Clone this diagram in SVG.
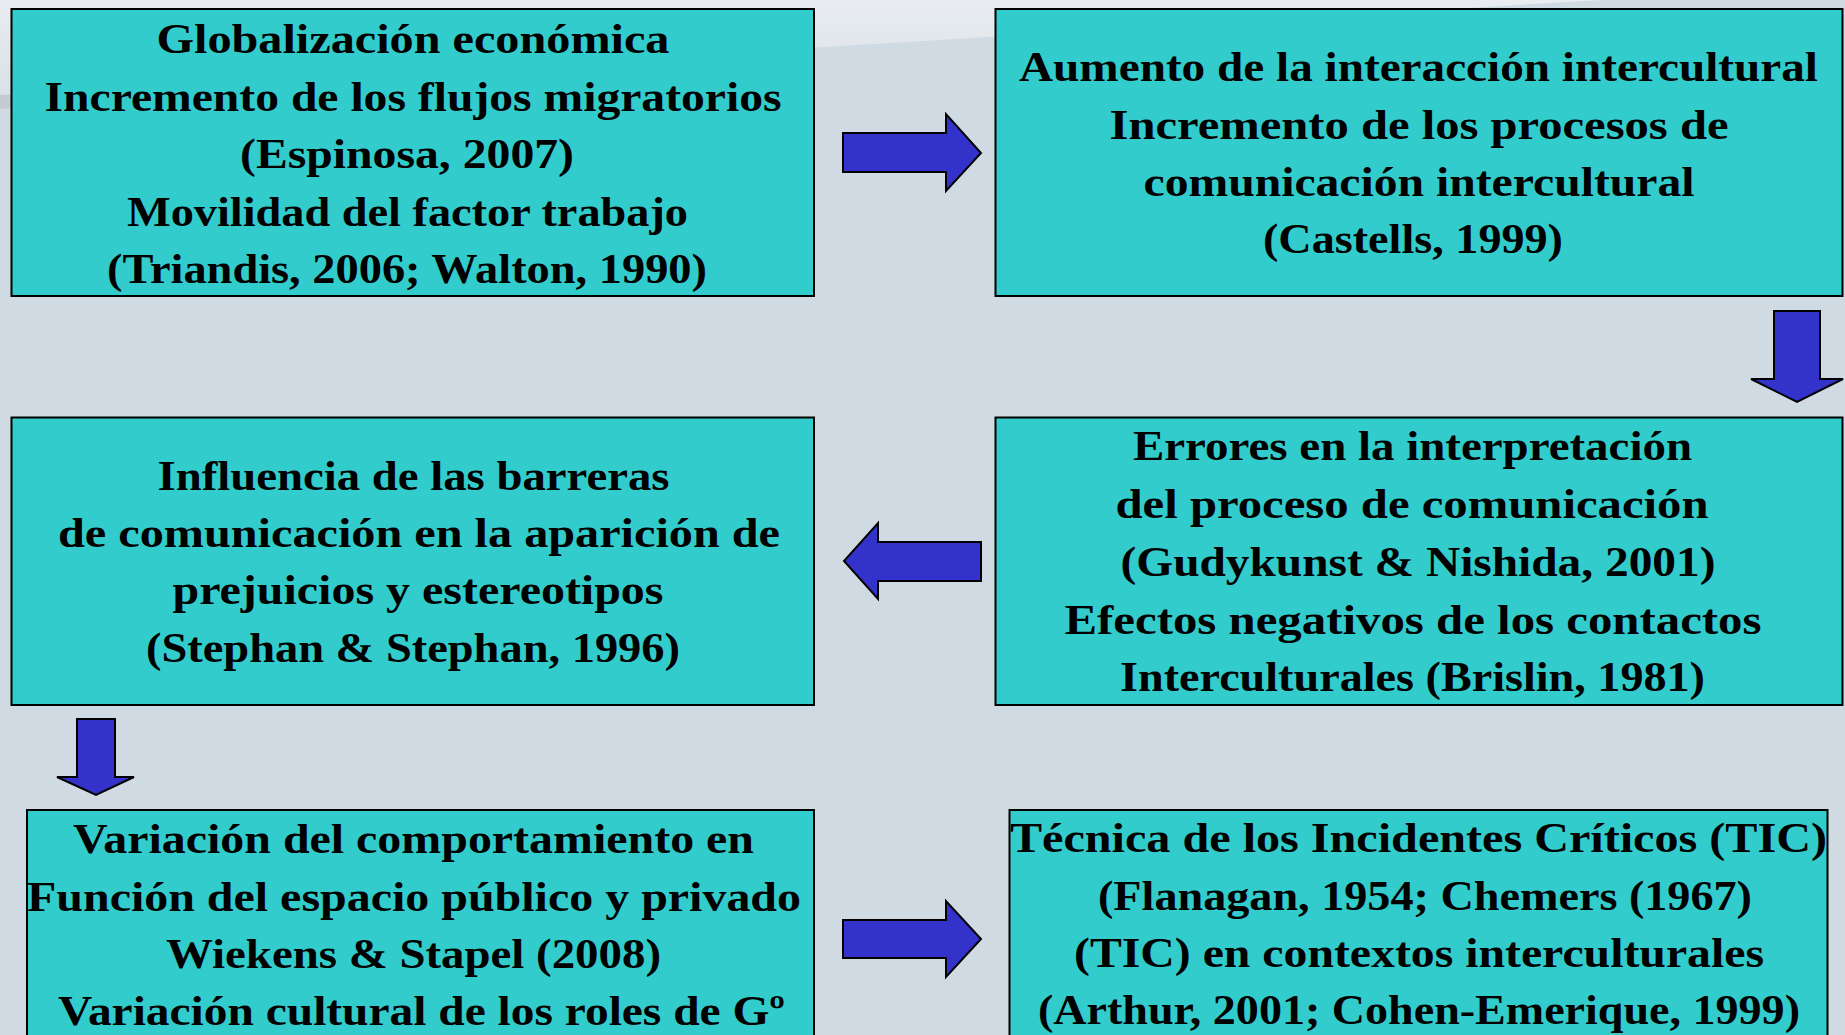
<svg xmlns="http://www.w3.org/2000/svg" width="1845" height="1035" viewBox="0 0 1845 1035">
<defs>
<linearGradient id="sky" x1="0" y1="0" x2="0" y2="1">
<stop offset="0" stop-color="#E9EDF1"/>
<stop offset="1" stop-color="#D9E0E7"/>
</linearGradient>
<linearGradient id="band" x1="0" y1="0" x2="1" y2="0">
<stop offset="0" stop-color="#C3CAD2"/>
<stop offset="1" stop-color="#D0DAE3" stop-opacity="0"/>
</linearGradient>
<style>
.box{fill:#33CCCC;stroke:#000;stroke-width:2}
.arr{fill:#3333CC;stroke:#000;stroke-width:2;stroke-linejoin:miter}
text{font-family:"Liberation Serif","Times New Roman",serif;font-weight:bold;font-size:42px;fill:#000;text-anchor:middle}
</style>
</defs>
<rect x="0" y="0" width="1845" height="1035" fill="#D0DAE3"/>
<polygon points="0,0 1600,0 0,97" fill="url(#sky)"/>
<polygon points="0,95 500,66 500,72 0,109" fill="url(#band)"/>

<g id="node1">
<rect class="box" x="11.5" y="9" width="802.5" height="287"/>
<text x="413" y="53" textLength="513" lengthAdjust="spacingAndGlyphs">Globalización económica</text>
<text x="413" y="110.5" textLength="737" lengthAdjust="spacingAndGlyphs">Incremento de los flujos migratorios</text>
<text x="407" y="168" textLength="334" lengthAdjust="spacingAndGlyphs">(Espinosa, 2007)</text>
<text x="407.5" y="225.5" textLength="561" lengthAdjust="spacingAndGlyphs">Movilidad del factor trabajo</text>
<text x="407" y="283" textLength="600" lengthAdjust="spacingAndGlyphs">(Triandis, 2006; Walton, 1990)</text>
</g>

<g id="node2">
<rect class="box" x="995.5" y="9" width="847" height="287"/>
<text x="1418.5" y="80.5" textLength="799" lengthAdjust="spacingAndGlyphs">Aumento de la interacción intercultural</text>
<text x="1419" y="138.5" textLength="619" lengthAdjust="spacingAndGlyphs">Incremento de los procesos de</text>
<text x="1419" y="196" textLength="551" lengthAdjust="spacingAndGlyphs">comunicación intercultural</text>
<text x="1413" y="253" textLength="300" lengthAdjust="spacingAndGlyphs">(Castells, 1999)</text>
</g>

<g id="node3">
<rect class="box" x="11.5" y="417.5" width="802.5" height="287.5"/>
<text x="413.5" y="490" textLength="512" lengthAdjust="spacingAndGlyphs">Influencia de las barreras</text>
<text x="419" y="546.5" textLength="722" lengthAdjust="spacingAndGlyphs">de comunicación en la aparición de</text>
<text x="418" y="604" textLength="491" lengthAdjust="spacingAndGlyphs">prejuicios y estereotipos</text>
<text x="413" y="661.5" textLength="534" lengthAdjust="spacingAndGlyphs">(Stephan &amp; Stephan, 1996)</text>
</g>

<g id="node4">
<rect class="box" x="995.5" y="417.5" width="847" height="287.5"/>
<text x="1412.5" y="460" textLength="559" lengthAdjust="spacingAndGlyphs">Errores en la interpretación</text>
<text x="1412" y="518" textLength="593" lengthAdjust="spacingAndGlyphs">del proceso de comunicación</text>
<text x="1418" y="575.5" textLength="595" lengthAdjust="spacingAndGlyphs">(Gudykunst &amp; Nishida, 2001)</text>
<text x="1413" y="633.5" textLength="697" lengthAdjust="spacingAndGlyphs">Efectos negativos de los contactos</text>
<text x="1412.5" y="690.5" textLength="585" lengthAdjust="spacingAndGlyphs">Interculturales (Brislin, 1981)</text>
</g>

<g id="node5">
<rect class="box" x="27" y="810" width="787" height="240"/>
<text x="413.5" y="853" textLength="681" lengthAdjust="spacingAndGlyphs">Variación del comportamiento en</text>
<text x="414" y="911" textLength="774" lengthAdjust="spacingAndGlyphs">Función del espacio público y privado</text>
<text x="413.5" y="967.5" textLength="495" lengthAdjust="spacingAndGlyphs">Wiekens &amp; Stapel (2008)</text>
<text x="421.5" y="1025" textLength="727" lengthAdjust="spacingAndGlyphs">Variación cultural de los roles de Gº</text>
</g>

<g id="node6">
<rect class="box" x="1009.5" y="810" width="818" height="240"/>
<text x="1418.5" y="852" textLength="817" lengthAdjust="spacingAndGlyphs">Técnica de los Incidentes Críticos (TIC)</text>
<text x="1425" y="909.5" textLength="654" lengthAdjust="spacingAndGlyphs">(Flanagan, 1954; Chemers (1967)</text>
<text x="1419" y="967" textLength="690" lengthAdjust="spacingAndGlyphs">(TIC) en contextos interculturales</text>
<text x="1419" y="1024" textLength="762" lengthAdjust="spacingAndGlyphs">(Arthur, 2001; Cohen-Emerique, 1999)</text>
</g>

<g id="connectors">
<polygon class="arr" points="843,133 946,133 946,114 981,153 946,191 946,172 843,172"/>
<polygon class="arr" points="1774,311 1820,311 1820,379 1843,379 1797,402 1751,379 1774,379"/>
<polygon class="arr" points="981,542 878,542 878,523 844,561 878,599 878,581 981,581"/>
<polygon class="arr" points="77,719 115,719 115,777 134,777 96,795 57,777 77,777"/>
<polygon class="arr" points="843,920 946,920 946,901 981,939 946,977 946,958 843,958"/>
</g>
</svg>
